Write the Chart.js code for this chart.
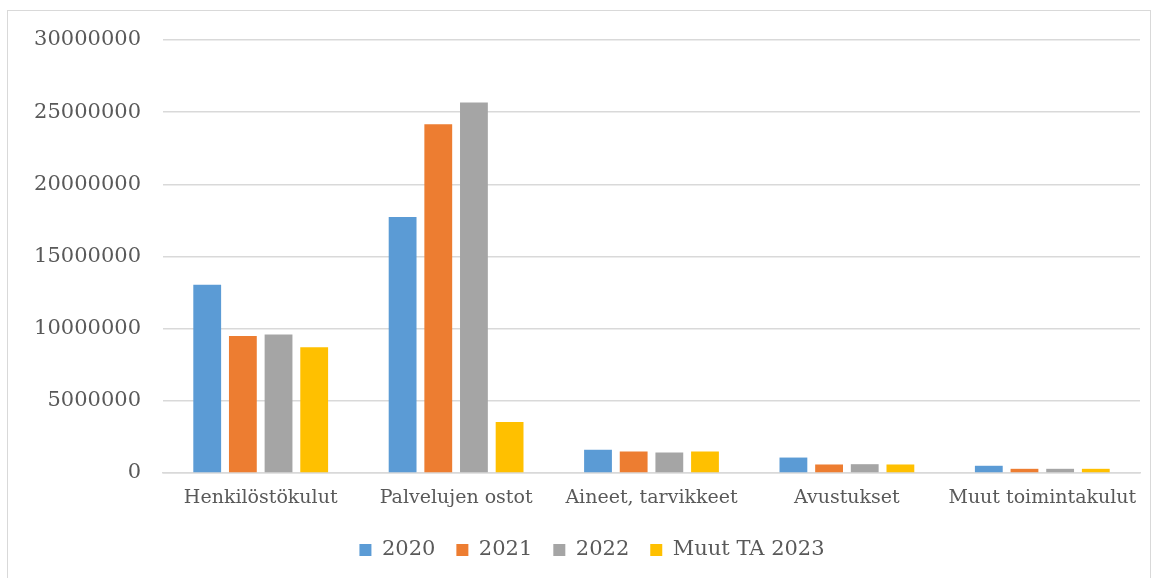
<!DOCTYPE html>
<html>
<head>
<meta charset="utf-8">
<script src="https://cdn.jsdelivr.net/npm/chart.js@4"></script>
<style>
  body { margin: 0; background: #fff; }
  #frame { position: absolute; left: 7px; top: 10px; width: 1142px; height: 600px; border: 1px solid #d9d9d9; }
  #wrap { position: absolute; left: 0; top: 0; width: 1155px; height: 578px; }
</style>
</head>
<body>
<div id="frame"></div>
<div id="wrap"><canvas id="costChart"></canvas></div>
<script>
// Kategoriat ja sarjat
const categories = ['Henkilöstökulut', 'Palvelujen ostot', 'Aineet, tarvikkeet', 'Avustukset', 'Muut toimintakulut'];
const seriesNames = ['2020', '2021', '2022', 'Muut TA 2023'];
const values2020 = [13040000, 17730000, 1610000, 1070000, 500000];
const values2021 = [9490000, 24170000, 1490000, 590000, 290000];
const values2022 = [9600000, 25670000, 1420000, 610000, 290000];
const valuesTA2023 = [8720000, 3530000, 1490000, 590000, 290000];
const yTicks = [0, 5000000, 10000000, 15000000, 20000000, 25000000, 30000000];

const colors = ['#5B9BD5', '#ED7D31', '#A5A5A5', '#FFC000'];
const allValues = [values2020, values2021, values2022, valuesTA2023];
const font = 'DejaVu Serif';

// siirretään selitettä hieman oikealle, kuten alkuperäisessä
const legendShift = {
    id: 'legendShift',
    afterLayout(chart) {
        chart.legend.left += 22;
        chart.legend.right += 22;
    }
};

const ctx = document.getElementById('costChart').getContext('2d');
new Chart(ctx, {
    type: 'bar',
    data: {
        labels: categories,
        datasets: seriesNames.map((name, i) => ({
            label: name,
            data: allValues[i],
            backgroundColor: colors[i],
            categoryPercentage: 0.73,
            barPercentage: 0.78
        }))
    },
    options: {
        responsive: true,
        maintainAspectRatio: false,
        animation: false,
        layout: { padding: { left: 0, right: 15, top: 40, bottom: 7.5 } },
        plugins: {
            legend: {
                position: 'bottom',
                labels: {
                    boxWidth: 12,
                    boxHeight: 12,
                    padding: 21,
                    color: '#595959',
                    font: { family: font, size: 21 }
                }
            },
            tooltip: { enabled: false }
        },
        scales: {
            x: {
                grid: { display: false },
                border: { color: '#d9d9d9', width: 1.5 },
                ticks: { color: '#595959', padding: 6, font: { family: font, size: 19 } },
                afterFit: (scale) => { scale.height = 45.5; }
            },
            y: {
                min: 0,
                max: 30000000,
                afterBuildTicks: (scale) => { scale.ticks = yTicks.map(v => ({ value: v })); },
                grid: { color: '#d9d9d9', lineWidth: 1.5, drawTicks: false },
                border: { display: false },
                ticks: {
                    color: '#595959',
                    padding: 22,
                    font: { family: font, size: 21 },
                    callback: (v) => String(v)
                },
                afterFit: (scale) => { scale.width = 163; }
            }
        }
    },
    plugins: [legendShift]
});
</script>
</body>
</html>
